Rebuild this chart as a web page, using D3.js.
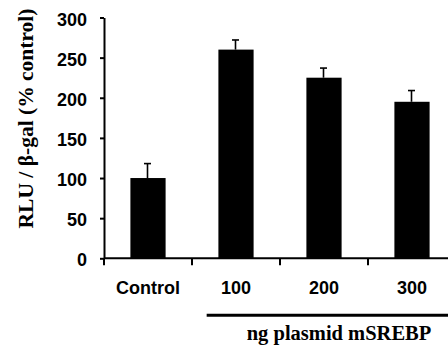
<!DOCTYPE html>
<html><head><meta charset="utf-8">
<script src="https://cdn.jsdelivr.net/npm/d3@7"></script>
<style>html,body{margin:0;padding:0;background:#fff;}svg{display:block;}</style>
</head><body>
<script>
const categories = ["Control", "100", "200", "300"];
const values = [100, 260, 225, 195];
const errors = [18, 12, 12, 14];
const yTicks = [0, 50, 100, 150, 200, 250, 300];
const yLabel = "RLU / \u03b2-gal (% control)";
const groupLabel = "ng plasmid mSREBP";

const W = 448, H = 349;
const svg = d3.select("body").append("svg").attr("width", W).attr("height", H);

const x = d3.scaleBand().domain(categories).range([104, 456]).paddingInner(0.6).paddingOuter(0.3);
const y = d3.scaleLinear().domain([0, 300]).range([258.3, 17.5]);
const step = x.step();
const left = c => x(c) - step * 0.3;

// bars
svg.selectAll("rect.bar").data(categories).join("rect")
  .attr("x", d => x(d)).attr("width", x.bandwidth())
  .attr("y", (d, i) => y(values[i])).attr("height", (d, i) => y(0) - y(values[i]))
  .attr("fill", "#000");

// error bars
const eb = svg.append("g").attr("stroke", "#000").attr("stroke-width", 1.6);
categories.forEach((c, i) => {
  const cx = x(c) + x.bandwidth() / 2 - 0.5;
  eb.append("line").attr("x1", cx).attr("x2", cx).attr("y1", y(values[i])).attr("y2", y(values[i] + errors[i]));
  eb.append("line").attr("x1", cx - 3.5).attr("x2", cx + 3.5).attr("y1", y(values[i] + errors[i])).attr("y2", y(values[i] + errors[i]));
});

// y axis
const ya = svg.append("g").attr("transform", `translate(104,0)`)
  .call(d3.axisLeft(y).tickValues(yTicks).tickSize(4).tickSizeOuter(0).tickPadding(13));
ya.select(".domain").attr("stroke-width", 2);
ya.selectAll(".tick line").attr("stroke-width", 2);
ya.selectAll(".tick text").attr("font-family", "'Liberation Sans', Arial, sans-serif")
  .attr("font-weight", "bold").attr("font-size", 18).attr("fill", "#000").attr("dy", "0.42em");

// x axis
const xa = svg.append("g");
xa.append("line").attr("x1", 104).attr("x2", 456).attr("y1", y(0)).attr("y2", y(0))
  .attr("stroke", "#000").attr("stroke-width", 2);
xa.selectAll("line.tk").data(categories).join("line")
  .attr("x1", d => left(d)).attr("x2", d => left(d))
  .attr("y1", y(0)).attr("y2", y(0) + 7).attr("stroke", "#000").attr("stroke-width", 2);
xa.selectAll("text").data(categories).join("text")
  .attr("x", d => x(d) + x.bandwidth() / 2).attr("y", 293.5)
  .attr("text-anchor", "middle")
  .attr("font-family", "'Liberation Sans', Arial, sans-serif")
  .attr("font-weight", "bold").attr("font-size", 18).text(d => d);

// group bracket
svg.append("line").attr("x1", x("100") - x.bandwidth() / 3).attr("x2", 456)
  .attr("y1", 315.3).attr("y2", 315.3).attr("stroke", "#000").attr("stroke-width", 3);
svg.append("text").attr("x", 339).attr("y", 339.5).attr("text-anchor", "middle")
  .attr("font-family", "'Liberation Serif', 'Times New Roman', serif")
  .attr("font-weight", "bold").attr("font-size", 20.5).text(groupLabel);

// y label
svg.append("text").attr("transform", "translate(32.5,118.5) rotate(-90)")
  .attr("text-anchor", "middle")
  .attr("font-family", "'Liberation Serif', 'Times New Roman', serif")
  .attr("font-weight", "bold").attr("font-size", 21.5).text(yLabel);
</script>
</body></html>
